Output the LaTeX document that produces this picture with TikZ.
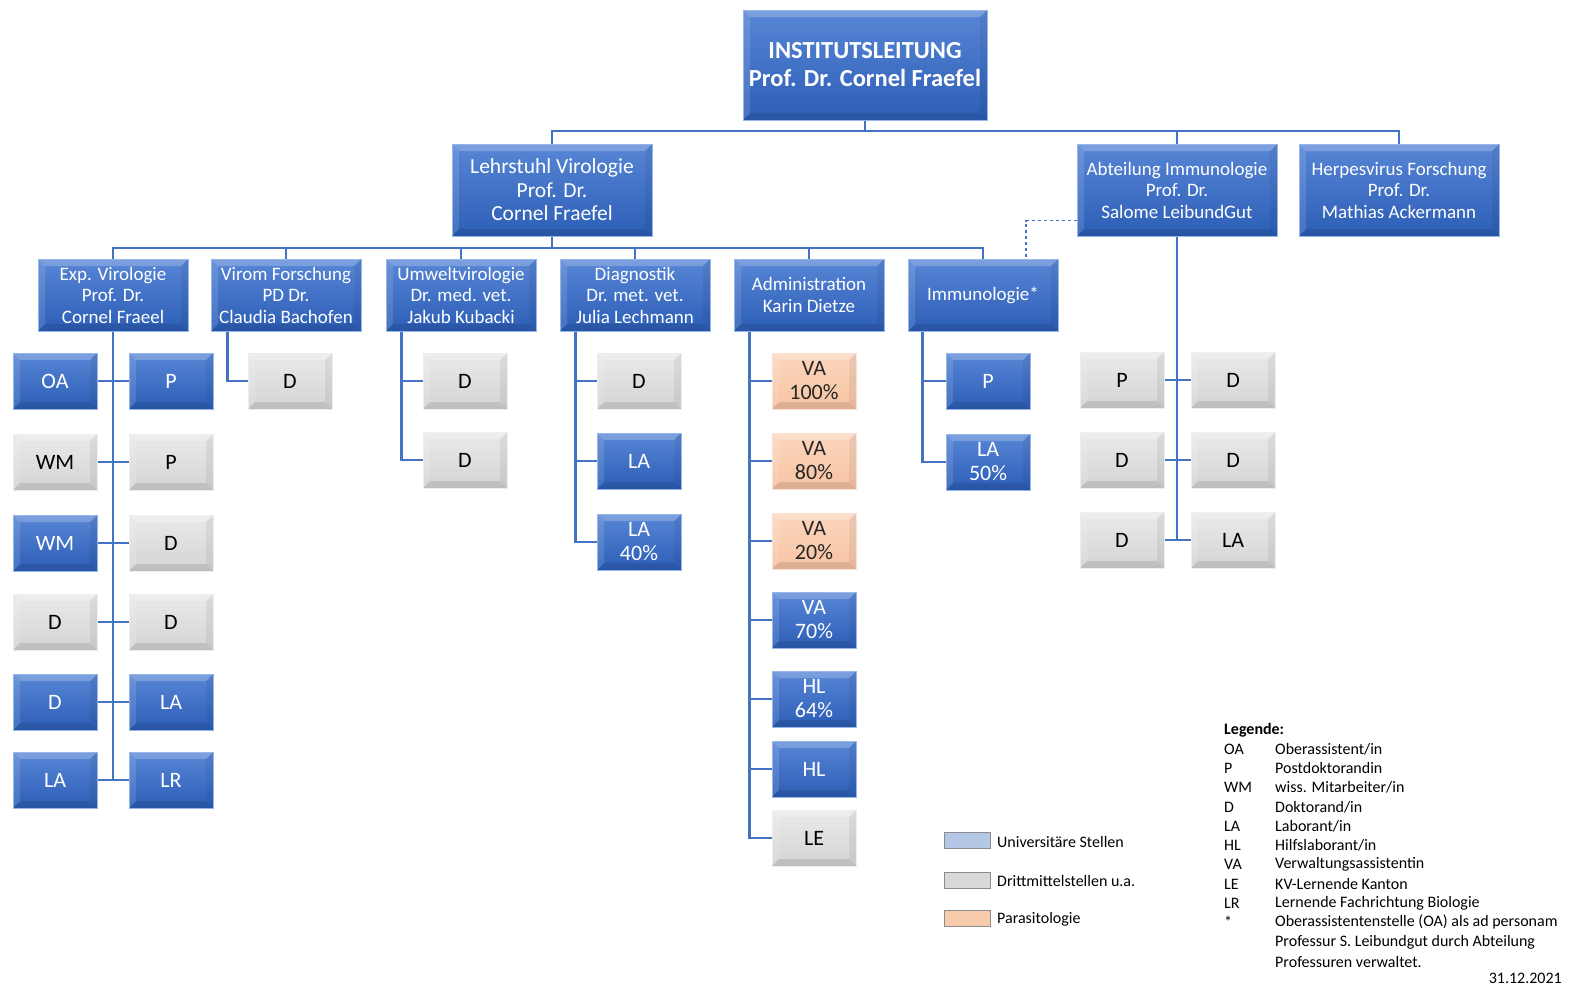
\documentclass[tikz,border=0pt]{standalone}
\usepackage{fontspec}
\setmainfont{Carlito}
\definecolor{bt}{RGB}{88,134,214}
\definecolor{bb}{RGB}{44,94,182}
\definecolor{bedge}{RGB}{150,182,232}
\definecolor{gt}{RGB}{234,234,234}
\definecolor{gb}{RGB}{212,212,212}
\definecolor{gedge}{RGB}{238,238,238}
\definecolor{pt}{RGB}{251,214,190}
\definecolor{pb}{RGB}{246,196,162}
\definecolor{pedge}{RGB}{252,226,208}
\definecolor{conn}{RGB}{68,114,196}
\definecolor{lgblue}{RGB}{180,199,231}
\definecolor{lggray}{RGB}{217,217,217}
\definecolor{lgpeach}{RGB}{248,203,173}
\definecolor{lgedge}{RGB}{140,140,140}
\tikzset{
  bevel/.style={path picture={
    \fill[white,opacity=0.22] (path picture bounding box.north west) -- (path picture bounding box.north east)
      -- ([xshift=-7pt,yshift=-7pt]path picture bounding box.north east) -- ([xshift=7pt,yshift=-7pt]path picture bounding box.north west) -- cycle;
    \fill[white,opacity=0.12] (path picture bounding box.north west) -- ([xshift=7pt,yshift=-7pt]path picture bounding box.north west)
      -- ([xshift=7pt,yshift=7pt]path picture bounding box.south west) -- (path picture bounding box.south west) -- cycle;
    \fill[black,opacity=0.10] (path picture bounding box.south west) -- (path picture bounding box.south east)
      -- ([xshift=-7pt,yshift=7pt]path picture bounding box.south east) -- ([xshift=7pt,yshift=7pt]path picture bounding box.south west) -- cycle;
    \fill[black,opacity=0.06] (path picture bounding box.north east) -- ([xshift=-7pt,yshift=-7pt]path picture bounding box.north east)
      -- ([xshift=-7pt,yshift=7pt]path picture bounding box.south east) -- (path picture bounding box.south east) -- cycle;
  }},
  box/.style={rectangle, inner sep=0pt, align=center, bevel, line width=1pt},
  bluebox/.style={box, top color=bt, bottom color=bb, draw=bedge, text=white},
  graybox/.style={box, top color=gt, bottom color=gb, draw=gedge, text=black},
  peachbox/.style={box, top color=pt, bottom color=pb, draw=pedge, text=black!85},
  small/.style={minimum width=84pt, minimum height=56pt, font=\fontsize{22}{24}\selectfont},
  sub/.style={bluebox, minimum width=150pt, minimum height=72pt, font=\fontsize{19}{21.5}\selectfont},
  dept/.style={bluebox, minimum width=200pt, minimum height=92pt},
  cn/.style={draw=conn, line width=2.2pt},
  lgtext/.style={anchor=west, inner sep=0pt, font=\fontsize{16}{18}\selectfont},
  lgsw/.style={draw=lgedge, line width=0.6pt, minimum width=46pt, minimum height=16pt, inner sep=0pt}
}
\begin{document}
\begin{tikzpicture}[x=1pt,y=-1pt]
\useasboundingbox[fill=white] (0,0) rectangle (1570,986);

% top
\node[bluebox, minimum width=244pt, minimum height=110pt, font=\bfseries\fontsize{24.5}{28}\selectfont] (top) at (865,65) {INSTITUTSLEITUNG\\Prof. Dr. Cornel Fraefel};

% departments
\node[dept, font=\fontsize{21.5}{23.5}\selectfont] (lv) at (552,190) {Lehrstuhl Virologie\\Prof. Dr.\\Cornel Fraefel};
\node[dept, font=\fontsize{19}{21.5}\selectfont] (abt) at (1177,190) {Abteilung Immunologie\\Prof. Dr.\\Salome LeibundGut};
\node[dept, font=\fontsize{19}{21.5}\selectfont] (hv) at (1399,190) {Herpesvirus Forschung\\Prof. Dr.\\Mathias Ackermann};

% sub units
\node[sub] (exp) at (113,295) {Exp. Virologie\\Prof. Dr.\\Cornel Fraeel};
\node[sub] (vir) at (286,295) {Virom Forschung\\PD Dr.\\Claudia Bachofen};
\node[sub] (umw) at (461,295) {Umweltvirologie\\Dr. med. vet.\\Jakub Kubacki};
\node[sub] (dia) at (635,295) {Diagnostik\\Dr. met. vet.\\Julia Lechmann};
\node[sub] (adm) at (809,295) {Administration\\Karin Dietze};
\node[sub] (imm) at (983,295) {Immunologie*};

% bus lines
\coordinate (bus1) at (865,131);
\coordinate (bus2) at (552,248);
\draw[cn] (top.south) -- (bus1);
\draw[cn] (lv.north) |- (bus1);
\draw[cn] (abt.north) |- (bus1);
\draw[cn] (hv.north) |- (bus1);
\draw[cn] (lv.south) -- (bus2);
\foreach \n in {exp,vir,umw,dia,adm,imm} { \draw[cn] (\n.north) |- (bus2); }
\draw[draw=conn, line width=1.2pt, dashed] ([yshift=16pt]abt.south west) -| ([xshift=43pt]imm.north);

% Exp. Virologie column
\node[bluebox,small] (e1l) at (55,381) {OA};
\node[bluebox,small] (e1r) at (171,381) {P};
\node[graybox,small] (e2l) at (55,462) {WM};
\node[graybox,small] (e2r) at (171,462) {P};
\node[bluebox,small] (e3l) at (55,543) {WM};
\node[graybox,small] (e3r) at (171,543) {D};
\node[graybox,small] (e4l) at (55,622) {D};
\node[graybox,small] (e4r) at (171,622) {D};
\node[bluebox,small] (e5l) at (55,702) {D};
\node[bluebox,small] (e5r) at (171,702) {LA};
\node[bluebox,small] (e6l) at (55,780) {LA};
\node[bluebox,small] (e6r) at (171,780) {LR};
\coordinate (eend) at (113,780);
\draw[cn] (exp.south) -- (eend);
\foreach \i in {1,...,6} { \draw[cn] (e\i l.east) -- (e\i r.west); }

% Virom
\node[graybox,small] (v1) at (290,381) {D};
\draw[cn] ([xshift=17pt]vir.south west) |- (v1.west);

% Umwelt
\node[graybox,small] (u1) at (465,381) {D};
\node[graybox,small] (u2) at (465,460) {D};
\draw[cn] ([xshift=16pt]umw.south west) |- (u2.west);
\draw[cn] ([xshift=16pt]umw.south west) |- (u1.west);

% Diagnostik
\node[graybox,small] (d1) at (639,381) {D};
\node[bluebox,small] (d2) at (639,461) {LA};
\node[bluebox,small] (d3) at (639,542) {LA\\40\%};
\foreach \n in {d1,d2,d3} { \draw[cn] ([xshift=16pt]dia.south west) |- (\n.west); }

% Administration
\node[peachbox,small] (a1) at (814,381) {VA\\100\%};
\node[peachbox,small] (a2) at (814,461) {VA\\80\%};
\node[peachbox,small] (a3) at (814,541) {VA\\20\%};
\node[bluebox,small] (a4) at (814,620) {VA\\70\%};
\node[bluebox,small] (a5) at (814,699) {HL\\64\%};
\node[bluebox,small] (a6) at (814,769) {HL};
\node[graybox,small] (a7) at (814,838) {LE};
\foreach \n in {a1,a2,a3,a4,a5,a6,a7} { \draw[cn] ([xshift=16pt]adm.south west) |- (\n.west); }

% Immunologie*
\node[bluebox,small] (i1) at (988,381) {P};
\node[bluebox,small] (i2) at (988,462) {LA\\50\%};
\foreach \n in {i1,i2} { \draw[cn] ([xshift=15pt]imm.south west) |- (\n.west); }

% Abteilung Immunologie
\node[graybox,small] (b1l) at (1122,380) {P};
\node[graybox,small] (b1r) at (1233,380) {D};
\node[graybox,small] (b2l) at (1122,460) {D};
\node[graybox,small] (b2r) at (1233,460) {D};
\node[graybox,small] (b3l) at (1122,540) {D};
\node[graybox,small] (b3r) at (1233,540) {LA};
\coordinate (bend) at (1177,540);
\draw[cn] (abt.south) -- (bend);
\foreach \i in {1,2,3} { \draw[cn] (b\i l.east) -- (b\i r.west); }

% colour legend
\node[lgsw, fill=lgblue] (sw1) at (967,840) {};
\node[lgsw, fill=lggray] (sw2) at (967,880) {};
\node[lgsw, fill=lgpeach] (sw3) at (967,918) {};
\node[lgtext] (sl1) at (997,842) {Universitäre Stellen};
\node[lgtext] (sl2) at (997,881) {Drittmittelstellen u.a.};
\node[lgtext] (sl3) at (997,919) {Parasitologie};

% abbreviations legend
\node[lgtext, font=\bfseries\fontsize{16}{18}\selectfont] (lgh) at (1224,730) {Legende:};
\foreach \y/\a/\t [count=\k] in {749/OA/{Oberassistent/in}, 768/P/Postdoktorandin, 787/WM/{wiss. Mitarbeiter/in},
  807/D/{Doktorand/in}, 826/LA/{Laborant/in}, 845/HL/{Hilfslaborant/in}, 864/VA/Verwaltungsassistentin,
  884/LE/KV-Lernende Kanton, 903/LR/Lernende Fachrichtung Biologie,
  922/*/Oberassistentenstelle (OA) als ad personam} {
  \node[lgtext] (la\k) at (1224,\y) {\a};
  \node[lgtext] (lt\k) at (1275,\y) {\t};
}
\node[lgtext] (lt11) at (1275,942) {Professur S. Leibundgut durch Abteilung};
\node[lgtext] (lt12) at (1275,962) {Professuren verwaltet.};
\node[lgtext, anchor=east] (date) at (1562,978) {31.12.2021};
\end{tikzpicture}
\end{document}
